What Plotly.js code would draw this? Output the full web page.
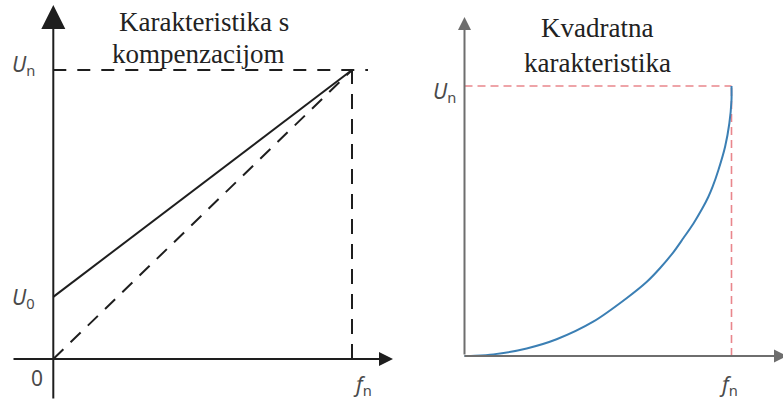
<!DOCTYPE html>
<html>
<head>
<meta charset="utf-8">
<script src="https://cdn.plot.ly/plotly-3.0.1.min.js"></script>
<style>html,body{margin:0;padding:0;background:#fff;}#chart{width:783px;height:400px;}</style>
</head>
<body>
<div id="chart"></div>
<script>
// ---- data (normalised: f/fn, U/Un) ----
const compF = [0, 1];
const compU = [0.215, 1];          // U0 ... Un  (with compensation)
const linF = [0, 1];
const linU = [0, 1];               // plain linear U/f
const quadF = [0, 0.04, 0.108, 0.233, 0.345, 0.482, 0.607, 0.682, 0.732, 0.782, 0.82, 0.857, 0.89, 0.913, 0.929, 0.951, 0.976, 0.992, 1.0, 1.0];
const quadU = [0, 0.001, 0.006, 0.028, 0.062, 0.127, 0.214, 0.274, 0.325, 0.384, 0.437, 0.49, 0.545, 0.589, 0.626, 0.689, 0.775, 0.862, 0.948, 1.0];
const leftTitle = ["Karakteristika s", "kompenzacijom"];
const rightTitle = ["Kvadratna", "karakteristika"];

// ---- layout helpers (pixel anchors) ----
const W = 783, H = 400;
function rng(pixZero, pixOne, lo, hi) {
  const k = 1 / (pixOne - pixZero);
  return [(lo - pixZero) * k, (hi - pixZero) * k];
}
const L = {x0: 53.3, x1: 352, y0: 359, y1: 70};
const R = {x0: 464.5, x1: 731.5, y0: 356, y1: 86};
const lx = rng(L.x0, L.x1, 0, 400);
const ly = rng(L.y0, L.y1, 400, 0);
const rx = rng(R.x0, R.x1, 400, 783);
const ry = rng(R.y0, R.y1, 400, 0);
function fL(p){return (p - L.x0)/(L.x1 - L.x0);}
function uL(p){return (p - L.y0)/(L.y1 - L.y0);}
function fR(p){return (p - R.x0)/(R.x1 - R.x0);}
function uR(p){return (p - R.y0)/(R.y1 - R.y0);}

const black = '#1e1e1e';
const redDash = '8px,5px';

const traces = [
  // left reference lines
  {x: [0, fL(368)], y: [1, 1], xaxis: 'x', yaxis: 'y', mode: 'lines',
   line: {color: black, width: 2, dash: '13px,11px'}},
  {x: [1, 1], y: [0, 1], xaxis: 'x', yaxis: 'y', mode: 'lines',
   line: {color: black, width: 2, dash: '15px,10px'}},
  {x: linF, y: linU, xaxis: 'x', yaxis: 'y', mode: 'lines',
   line: {color: black, width: 2, dash: '14px,10px'}},
  {x: compF, y: compU, xaxis: 'x', yaxis: 'y', mode: 'lines',
   line: {color: black, width: 2}},
  // right reference lines
  {x: [0, 1], y: [1, 1], xaxis: 'x2', yaxis: 'y2', mode: 'lines',
   line: {color: '#e9868c', width: 1.6, dash: redDash}},
  {x: [1, 1], y: [0, 1], xaxis: 'x2', yaxis: 'y2', mode: 'lines',
   line: {color: '#e9868c', width: 1.6, dash: redDash}},
  {x: quadF, y: quadU, xaxis: 'x2', yaxis: 'y2', mode: 'lines',
   line: {color: '#3b7fb4', width: 2, shape: 'spline', smoothing: 0.8}}
];

const ax = {visible: false, fixedrange: true};
const labFont = {family: 'Noto Sans', size: 21, color: '#4a4a4a'};
const titleFont = {family: 'Liberation Serif', size: 27, color: '#222222'};
function lab(xr, yr, x, y, text, xanchor, yanchor, xs, ys) {
  return {xref: xr, yref: yr, x: x, y: y, text: text, showarrow: false,
          xanchor: xanchor, yanchor: yanchor, xshift: xs, yshift: ys, font: labFont};
}
function arrow(xr, yr, x, y, axv, ayv, color, width, size, head) {
  return {xref: xr, yref: yr, axref: xr, ayref: yr, x: x, y: y, ax: axv, ay: ayv,
          text: '', showarrow: true, arrowhead: head, arrowsize: size, arrowwidth: width,
          arrowcolor: color, standoff: 0};
}
function ttl(px, py, text) {
  return {xref: 'paper', yref: 'paper', x: px / W, y: 1 - py / H, text: text,
          showarrow: false, xanchor: 'center', yanchor: 'middle', font: titleFont};
}

const annotations = [
  // axes
  arrow('x', 'y', 0, uL(5), 0, uL(400), black, 2, 2.4, 2),
  arrow('x', 'y', fL(393), 0, fL(12), 0, black, 2, 1.4, 2),
  arrow('x2', 'y2', 0, uR(17), 0, 0, '#6e6e6e', 2, 1.3, 2),
  arrow('x2', 'y2', fR(787), 0, fR(463), 0, '#6e6e6e', 2, 1.3, 2),
  // tick-like labels
  lab('x', 'y', 0, 1, '<i>U</i><sub>n</sub>', 'right', 'middle', -16, 5),
  lab('x', 'y', 0, compU[0], '<i>U</i><sub>0</sub>', 'right', 'middle', -16, -1),
  lab('x', 'y', 0, 0, '0', 'right', 'middle', -8, -19),
  lab('x', 'y', 1, 0, '<i>f</i><sub>n</sub>', 'center', 'middle', 10, -26),
  lab('x2', 'y2', 0, 1, '<i>U</i><sub>n</sub>', 'right', 'middle', -7, -6),
  lab('x2', 'y2', 1, 0, '<i>f</i><sub>n</sub>', 'center', 'middle', -3, -29),
  // titles
  ttl(204, 22, leftTitle[0]),
  ttl(198, 54, leftTitle[1]),
  ttl(597, 28, rightTitle[0]),
  ttl(597, 63, rightTitle[1])
];

const layout = {
  width: W, height: H, margin: {l: 0, r: 0, t: 0, b: 0},
  paper_bgcolor: '#fff', plot_bgcolor: 'rgba(0,0,0,0)', showlegend: false,
  xaxis: Object.assign({domain: [0, 400 / W], range: lx}, ax),
  yaxis: Object.assign({domain: [0, 1], range: ly}, ax),
  xaxis2: Object.assign({domain: [400 / W, 1], range: rx, anchor: 'y2'}, ax),
  yaxis2: Object.assign({domain: [0, 1], range: ry, anchor: 'x2'}, ax),
  annotations: annotations
};

Plotly.newPlot('chart', traces, layout, {staticPlot: true, displayModeBar: false});
</script>
</body>
</html>
